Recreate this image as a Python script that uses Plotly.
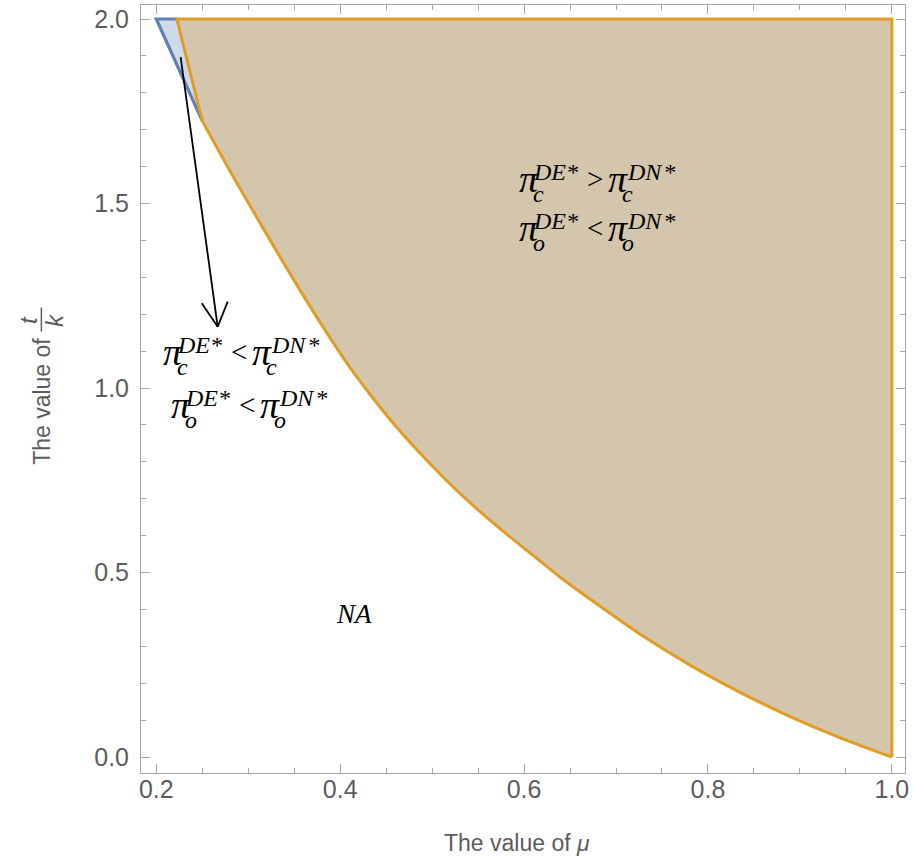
import plotly.graph_objects as go

# ---- data ----
curve_mu = [0.25, 0.28, 0.316, 0.352, 0.388, 0.41, 0.435, 0.461, 0.497, 0.533,
            0.569, 0.605, 0.638, 0.674, 0.728, 0.782, 0.836, 0.890, 0.944, 1.0]
curve_tk = [1.724, 1.589, 1.434, 1.283, 1.140, 1.058, 0.975, 0.895, 0.797, 0.708,
            0.629, 0.556, 0.490, 0.424, 0.330, 0.247, 0.174, 0.109, 0.052, 0.0]
t_top = 2.0
mu_right = 1.0
blue_top_left = 0.2
orange_top_left = 0.2224

x_ticks = [0.2, 0.4, 0.6, 0.8, 1.0]
y_ticks = [0.0, 0.5, 1.0, 1.5, 2.0]

BLUE = "#5e81b5"
ORANGE = "#e19c24"
FRAME = "#a6a6a6"
LABEL = "#5c5c5c"


def region(top_left):
    xs = [top_left] + curve_mu + [mu_right, top_left]
    ys = [t_top] + curve_tk + [t_top, t_top]
    return xs, ys


fig = go.Figure()
bx, by = region(blue_top_left)
ox, oy = region(orange_top_left)
# fills
fig.add_trace(go.Scatter(x=bx, y=by, mode="lines", fill="toself",
                         fillcolor="rgba(94,129,181,0.3)",
                         line=dict(width=0), hoverinfo="skip"))
fig.add_trace(go.Scatter(x=ox, y=oy, mode="lines", fill="toself",
                         fillcolor="rgba(225,156,36,0.3)",
                         line=dict(width=0), hoverinfo="skip"))
# blue boundary (visible part)
fig.add_trace(go.Scatter(x=[curve_mu[0], blue_top_left, orange_top_left],
                         y=[curve_tk[0], t_top, t_top], mode="lines",
                         line=dict(color=BLUE, width=3.2), hoverinfo="skip"))
# orange straight edges
fig.add_trace(go.Scatter(x=[curve_mu[0], orange_top_left, mu_right, mu_right],
                         y=[curve_tk[0], t_top, t_top, curve_tk[-1]], mode="lines",
                         line=dict(color=ORANGE, width=3), hoverinfo="skip"))
# orange curved boundary
fig.add_trace(go.Scatter(x=curve_mu, y=curve_tk, mode="lines",
                         line=dict(color=ORANGE, width=3, shape="spline", smoothing=0.8),
                         hoverinfo="skip"))

# ---- arrow ----
arrow_start = (0.2265, 1.897)
arrow_tip = (0.2668, 1.166)
arm_left = (0.2495, 1.230)
arm_right = (0.2777, 1.234)
for (a, b) in [(arrow_start, arrow_tip), (arm_left, arrow_tip), (arm_right, arrow_tip)]:
    fig.add_shape(type="line", xref="x", yref="y", x0=a[0], y0=a[1], x1=b[0], y1=b[1],
                  line=dict(color="black", width=1.8))

SERIF = "Liberation Serif"
annotations = []


def piece(x, y, text, dx, dy, size, italic=True):
    annotations.append(dict(
        x=x, y=y, xref="x", yref="y", text=(f"<i>{text}</i>" if italic else text),
        showarrow=False, xanchor="left", yanchor="middle", xshift=dx, yshift=dy,
        font=dict(family=SERIF, size=size, color="black")))


def expr(x, y, sub, rel):
    piece(x, y, "π", -2, 0, 38)
    piece(x, y, "DE*", 12, 7, 24)
    piece(x, y, sub, 12, -15, 24)
    piece(x, y, rel, 66, 0, 29, italic=False)
    piece(x, y, "π", 87, 0, 38)
    piece(x, y, "DN\u200a*", 106, 7, 24)
    piece(x, y, sub, 101, -15, 24)


expr(0.5945, 1.566, "c", "&gt;")
expr(0.5945, 1.4336, "o", "&lt;")
expr(0.2068, 1.0982, "c", "&lt;")
expr(0.2165, 0.9547, "o", "&lt;")

annotations.append(dict(x=0.4155, y=0.3889, xref="x", yref="y", text="<i>NA</i>",
                        showarrow=False, font=dict(family=SERIF, size=27, color="black")))

# axis titles
annotations.append(dict(x=0.4928, y=-0.091, xref="paper", yref="paper",
                        text="The value of <i>μ</i>", showarrow=False,
                        xanchor="center", yanchor="middle",
                        font=dict(family="Liberation Sans", size=23, color=LABEL)))
annotations.append(dict(x=(42 - 141) / 767, y=(773 - 401) / 769, xref="paper", yref="paper",
                        text="The value of", showarrow=False, textangle=-90,
                        xanchor="center", yanchor="middle",
                        font=dict(family="Liberation Sans", size=23, color=LABEL)))
annotations.append(dict(x=(28 - 141) / 767, y=(773 - 319) / 769, xref="paper", yref="paper",
                        text="<i>t</i>", showarrow=False, textangle=-90,
                        xanchor="center", yanchor="middle",
                        font=dict(family="Liberation Sans", size=24, color=LABEL)))
annotations.append(dict(x=(54 - 141) / 767, y=(773 - 319) / 769, xref="paper", yref="paper",
                        text="<i>k</i>", showarrow=False, textangle=-90,
                        xanchor="center", yanchor="middle",
                        font=dict(family="Liberation Sans", size=24, color=LABEL)))
fig.add_shape(type="line", xref="paper", yref="paper",
              x0=(41 - 141) / 767, x1=(41 - 141) / 767,
              y0=(773 - 307) / 769, y1=(773 - 331) / 769,
              line=dict(color=LABEL, width=1.5))

axis_common = dict(showgrid=False, zeroline=False, showline=True, linecolor=FRAME,
                   linewidth=1, mirror="ticks", ticks="inside", ticklen=9,
                   tickcolor=FRAME, tickwidth=1,
                   tickfont=dict(family="Liberation Sans", size=25, color=LABEL))

fig.update_layout(
    width=913, height=861,
    margin=dict(l=141, r=5, t=4, b=88),
    plot_bgcolor="white", paper_bgcolor="white",
    showlegend=False,
    annotations=annotations,
    xaxis=dict(range=[0.1834, 1.0143], tickvals=x_ticks,
               ticktext=[f"{v:.1f}" for v in x_ticks],
               minor=dict(dtick=0.05, tick0=0.2, ticks="inside", ticklen=5,
                          tickcolor=FRAME, tickwidth=1),
               ticklabelstandoff=-6,
               **axis_common),
    yaxis=dict(range=[-0.0433, 2.038], tickvals=y_ticks,
               ticktext=[f"{v:.1f}" for v in y_ticks],
               minor=dict(dtick=0.1, tick0=0.0, ticks="inside", ticklen=5,
                          tickcolor=FRAME, tickwidth=1),
               ticklabelstandoff=6,
               **axis_common),
)

fig.write_html("out.html")
